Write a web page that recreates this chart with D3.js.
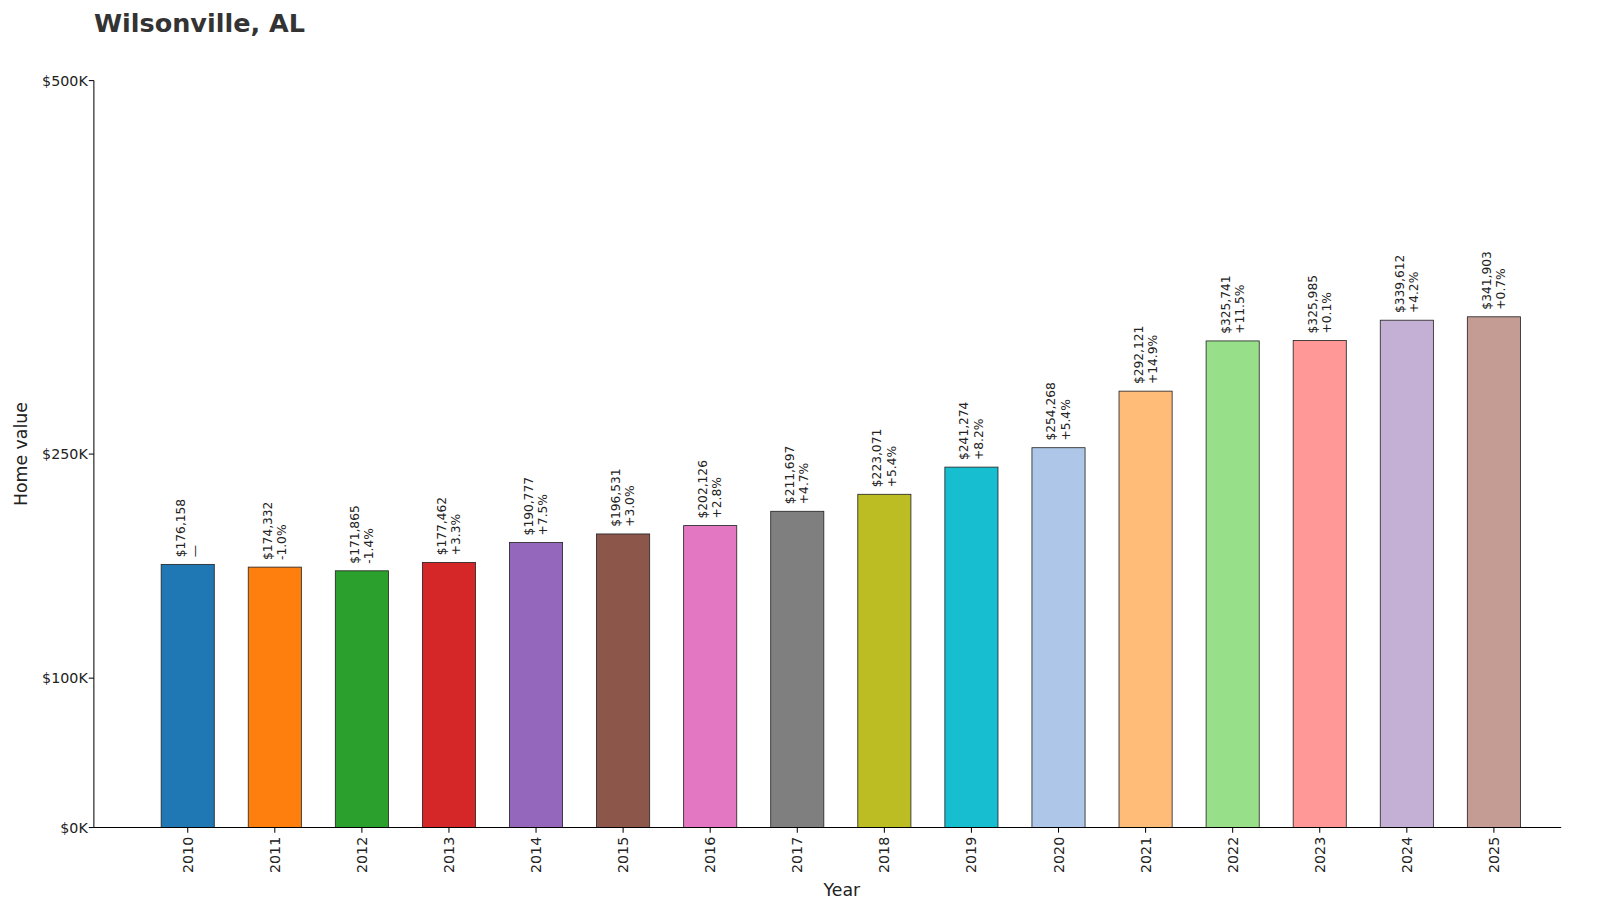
<html>
<head>
<style>
body{ margin:0; padding:0; background:#fff; font-family:"DejaVu Sans", sans-serif; }
text{ font-family:"DejaVu Sans", sans-serif; fill:#222; }
</style>
<script src="https://cdnjs.cloudflare.com/ajax/libs/d3/7.8.5/d3.min.js"></script>
</head>
<body>
<svg id="chart" width="1600" height="911"></svg>
<script>
var years = ['2010','2011','2012','2013','2014','2015','2016','2017','2018','2019','2020','2021','2022','2023','2024','2025']
var values = [176158,174332,171865,177462,190777,196531,202126,211697,223071,241274,254268,292121,325741,325985,339612,341903]
var changes = ['—','-1.0%','-1.4%','+3.3%','+7.5%','+3.0%','+2.8%','+4.7%','+5.4%','+8.2%','+5.4%','+14.9%','+11.5%','+0.1%','+4.2%','+0.7%']
var colors = ['#1f77b4','#ff7f0e','#2ca02c','#d62728','#9467bd','#8c564b','#e377c2','#7f7f7f','#bcbd22','#17becf','#aec7e8','#ffbb78','#98df8a','#ff9896','#c5b0d5','#c49c94']
var yTicks = [0,100000,250000,500000]
var yTickLabels = ['$0K','$100K','$250K','$500K']

// layout was measured on a 1568-wide view; scale up to 1600
var svg = d3.select('#chart').append('g').attr('transform','scale(1.0204)')
var x = d3.scaleBand().domain(years).range([141.3,1506.7]).paddingInner(0.39).paddingOuter(0.195)
var y = d3.scaleLinear().domain([0,500000]).range([811,79])

svg.append('text').attr('x',92).attr('y',31).style('font-size','25px').style('font-weight','bold').style('fill','#333').text('Wilsonville, AL')

svg.selectAll('rect.bar').data(values).join('rect')
  .attr('class','bar')
  .attr('x',function(d,i){ return x(years[i]) })
  .attr('width',x.bandwidth())
  .attr('y',function(d){ return y(d) })
  .attr('height',function(d){ return y(0)-y(d) })
  .attr('fill',function(d,i){ return colors[i] })
  .attr('stroke','#222').attr('stroke-width',0.8)

var lab = svg.selectAll('g.lab').data(values).join('g')
  .attr('class','lab')
  .attr('transform',function(d,i){ return 'translate('+(x(years[i])+x.bandwidth()/2)+','+(y(d)-7)+') rotate(-90)' })
lab.append('text').attr('x',0).attr('y',-3).style('font-size','12px').text(function(d){ return '$'+d3.format(',')(d) })
lab.append('text').attr('x',0).attr('y',11).style('font-size','12px').text(function(d,i){ return changes[i] })

// axes
svg.append('line').attr('x1',92).attr('x2',92).attr('y1',79).attr('y2',811).attr('stroke','#000')
svg.append('line').attr('x1',92).attr('x2',1530).attr('y1',811).attr('y2',811).attr('stroke','#000')
svg.selectAll('g.yt').data(yTicks).join('g').attr('class','yt')
  .attr('transform',function(d){ return 'translate(92,'+y(d)+')' })
  .each(function(d,i){
    var g = d3.select(this)
    g.append('line').attr('x1',-5).attr('x2',0).attr('stroke','#000')
    g.append('text').attr('x',-6).attr('dy','0.35em').attr('text-anchor','end').style('font-size','14px').text(yTickLabels[i])
  })
svg.selectAll('g.xt').data(years).join('g').attr('class','xt')
  .attr('transform',function(d){ return 'translate('+(x(d)+x.bandwidth()/2)+',811)' })
  .each(function(d){
    var g = d3.select(this)
    g.append('line').attr('y1',0).attr('y2',5).attr('stroke','#000')
    g.append('text').attr('transform','translate(0,9) rotate(-90)').attr('dy','0.35em').attr('text-anchor','end').style('font-size','14px').text(d)
  })
svg.append('text').attr('x',825).attr('y',878).attr('text-anchor','middle').style('font-size','17px').text('Year')
svg.append('text').attr('transform','translate(26,445) rotate(-90)').attr('text-anchor','middle').style('font-size','17px').text('Home value')
</script>
</body>
</html>
